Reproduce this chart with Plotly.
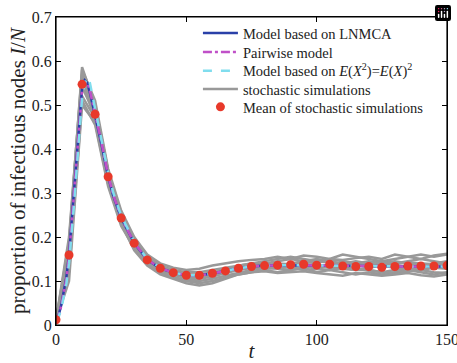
import plotly.graph_objects as go

# mean of stochastic simulations (every 5 time units)
t_mean = list(range(0, 151, 5))
mean_vals = [0.012, 0.159, 0.547, 0.479, 0.337, 0.243, 0.186, 0.148, 0.129, 0.119,
             0.113, 0.113, 0.1175, 0.123, 0.129, 0.133, 0.135, 0.136, 0.137, 0.138,
             0.136, 0.138, 0.134, 0.133, 0.133, 0.131, 0.133, 0.134, 0.134, 0.134, 0.135]

# model curves
t_model = [0, 1, 2, 3, 4, 5, 6, 7, 8, 9, 10, 11, 12, 13, 14, 15, 16, 17, 18, 20, 22, 25,
           30, 35, 40, 45, 50, 55, 60, 65, 70, 75, 80, 90, 100, 110, 120, 135, 150]
lnmca = [0.01, 0.022, 0.045, 0.075, 0.11, 0.16, 0.235, 0.31, 0.39, 0.47, 0.538, 0.556,
         0.55, 0.528, 0.503, 0.479, 0.452, 0.423, 0.395, 0.337, 0.293, 0.243,
         0.186, 0.148, 0.129, 0.119, 0.113, 0.113, 0.117, 0.123, 0.129, 0.133, 0.135,
         0.136, 0.135, 0.134, 0.133, 0.133, 0.133]
pairwise = [0.01, 0.021, 0.043, 0.072, 0.106, 0.155, 0.228, 0.303, 0.382, 0.462, 0.532, 0.552,
            0.551, 0.532, 0.507, 0.483, 0.456, 0.427, 0.399, 0.34, 0.295, 0.244,
            0.187, 0.149, 0.129, 0.119, 0.113, 0.113, 0.117, 0.123, 0.129, 0.133, 0.135,
            0.136, 0.135, 0.134, 0.133, 0.133, 0.133]
ex2 = [0.01, 0.018, 0.036, 0.062, 0.095, 0.14, 0.205, 0.28, 0.36, 0.44, 0.515, 0.548,
       0.563, 0.55, 0.522, 0.492, 0.465, 0.436, 0.407, 0.346, 0.3, 0.248,
       0.19, 0.15, 0.13, 0.119, 0.113, 0.113, 0.117, 0.123, 0.129, 0.133, 0.135,
       0.136, 0.135, 0.134, 0.133, 0.133, 0.133]

# individual stochastic simulations (every 5 time units)
t_sim = list(range(0, 151, 5))
sim01 = [0.01, 0.18, 0.586, 0.50, 0.35, 0.25, 0.19, 0.15, 0.13, 0.12, 0.115, 0.112, 0.118, 0.125, 0.135, 0.14,
         0.145, 0.15, 0.155, 0.15, 0.145, 0.15, 0.16, 0.155, 0.15, 0.145, 0.15, 0.155, 0.16, 0.155, 0.16]
sim02 = [0.01, 0.10, 0.50, 0.46, 0.32, 0.23, 0.17, 0.135, 0.115, 0.105, 0.095, 0.09, 0.095, 0.105, 0.115, 0.12,
         0.125, 0.12, 0.125, 0.13, 0.12, 0.125, 0.12, 0.115, 0.12, 0.115, 0.12, 0.125, 0.12, 0.115, 0.12]
sim03 = [0.01, 0.20, 0.57, 0.49, 0.345, 0.25, 0.195, 0.155, 0.135, 0.125, 0.12, 0.12, 0.125, 0.13, 0.135, 0.14,
         0.14, 0.145, 0.15, 0.145, 0.15, 0.145, 0.14, 0.145, 0.14, 0.145, 0.14, 0.145, 0.15, 0.145, 0.14]
sim04 = [0.01, 0.15, 0.54, 0.48, 0.34, 0.245, 0.185, 0.145, 0.125, 0.115, 0.105, 0.105, 0.11, 0.118, 0.125, 0.13,
         0.13, 0.128, 0.125, 0.13, 0.135, 0.13, 0.128, 0.125, 0.125, 0.12, 0.125, 0.128, 0.125, 0.13, 0.128]
sim05 = [0.01, 0.13, 0.52, 0.47, 0.33, 0.24, 0.18, 0.145, 0.125, 0.115, 0.11, 0.108, 0.112, 0.12, 0.127, 0.13,
         0.132, 0.135, 0.14, 0.145, 0.14, 0.15, 0.145, 0.14, 0.135, 0.14, 0.145, 0.14, 0.135, 0.14, 0.145]
sim06 = [0.01, 0.17, 0.56, 0.50, 0.35, 0.255, 0.19, 0.15, 0.128, 0.118, 0.112, 0.11, 0.115, 0.12, 0.128, 0.135,
         0.14, 0.135, 0.13, 0.135, 0.13, 0.135, 0.13, 0.125, 0.13, 0.135, 0.13, 0.125, 0.13, 0.135, 0.13]
sim07 = [0.01, 0.16, 0.55, 0.47, 0.325, 0.235, 0.18, 0.14, 0.12, 0.11, 0.10, 0.10, 0.105, 0.112, 0.118, 0.125,
         0.128, 0.13, 0.132, 0.125, 0.128, 0.125, 0.13, 0.128, 0.125, 0.12, 0.118, 0.122, 0.125, 0.12, 0.118]
sim08 = [0.01, 0.19, 0.58, 0.51, 0.355, 0.26, 0.20, 0.16, 0.14, 0.13, 0.125, 0.128, 0.135, 0.14, 0.145, 0.148,
         0.15, 0.155, 0.15, 0.158, 0.155, 0.15, 0.148, 0.152, 0.155, 0.15, 0.16, 0.155, 0.15, 0.158, 0.162]
sim09 = [0.01, 0.12, 0.51, 0.455, 0.315, 0.225, 0.175, 0.14, 0.12, 0.108, 0.10, 0.095, 0.10, 0.108, 0.115, 0.12,
         0.122, 0.118, 0.12, 0.122, 0.118, 0.115, 0.112, 0.118, 0.115, 0.112, 0.115, 0.118, 0.113, 0.11, 0.115]
sim10 = [0.01, 0.16, 0.55, 0.49, 0.34, 0.245, 0.19, 0.15, 0.13, 0.12, 0.115, 0.115, 0.12, 0.125, 0.13, 0.132,
         0.135, 0.14, 0.138, 0.14, 0.145, 0.142, 0.138, 0.14, 0.145, 0.14, 0.138, 0.142, 0.14, 0.138, 0.14]
sims = [sim01, sim02, sim03, sim04, sim05, sim06, sim07, sim08, sim09, sim10]

x_ticks = [0, 50, 100, 150]
y_ticks = [0, 0.1, 0.2, 0.3, 0.4, 0.5, 0.6, 0.7]
y_ticktext = ["0", "0.1", "0.2", "0.3", "0.4", "0.5", "0.6", "0.7"]

FONT = "Liberation Serif, Times New Roman, serif"

fig = go.Figure()
for i, s in enumerate(sims):
    fig.add_trace(go.Scatter(x=t_sim, y=s, mode="lines",
                             line=dict(color="#999999", width=2.5),
                             name="stochastic simulations", legendgroup="sim",
                             showlegend=(i == 0), legend="legend4"))
fig.add_trace(go.Scatter(x=t_model, y=lnmca, mode="lines",
                         line=dict(color="#2A40A8", width=2.5),
                         name="Model based on LNMCA", legend="legend"))
fig.add_trace(go.Scatter(x=t_model, y=pairwise, mode="lines",
                         line=dict(color="#C050C8", width=2.5, dash="dashdot"),
                         name="Pairwise model", legend="legend2"))
fig.add_trace(go.Scatter(x=t_model, y=ex2, mode="lines",
                         line=dict(color="#80DDEE", width=2.5, dash="dash"),
                         name="Model based on <i>E</i>(<i>X</i><sup>2</sup>)=<i>E</i>(<i>X</i>)<sup>2</sup>",
                         legend="legend3"))
fig.add_trace(go.Scatter(x=t_mean, y=mean_vals, mode="markers",
                         marker=dict(color="#E8392A", size=9),
                         name="Mean of stochastic simulations", legend="legend5"))

axis_common = dict(showline=True, linecolor="black", linewidth=1.2, mirror="ticks",
                   ticks="inside", ticklen=5, tickcolor="black", showgrid=False,
                   zeroline=False, automargin=False, ticklabeloverflow="allow",
                   tickfont=dict(family=FONT, size=16, color="#222"))

leg_font = dict(family=FONT, size=14.5, color="#222")
leg_x = 0.363
leg_rows = [0.948, 0.886, 0.825, 0.766, 0.708]


def leg(yv):
    return dict(x=leg_x, y=yv, xanchor="left", yanchor="middle",
                bgcolor="rgba(0,0,0,0)", font=leg_font, itemwidth=35,
                borderwidth=0)


fig.update_layout(
    width=457, height=363,
    margin=dict(l=56, r=10, t=17, b=38),
    paper_bgcolor="white", plot_bgcolor="white",
    font=dict(family=FONT, size=16, color="#222"),
    showlegend=True,
    modebar=dict(bgcolor="rgba(0,0,0,0)", color="rgba(0,0,0,0)", activecolor="rgba(0,0,0,0)"),
    legend=leg(leg_rows[0]),
    legend2=leg(leg_rows[1]),
    legend3=leg(leg_rows[2]),
    legend4=leg(leg_rows[3]),
    legend5=leg(leg_rows[4]),
    shapes=[dict(type="rect", xref="paper", yref="paper", x0=0, x1=1, y0=0, y1=1,
                 line=dict(color="black", width=1.2), fillcolor="rgba(0,0,0,0)", layer="above")],
    xaxis=dict(range=[0, 150], tickvals=x_ticks,
               title=dict(text="<i>t</i>", standoff=0, font=dict(family=FONT, size=21)),
               **axis_common),
    yaxis=dict(range=[0, 0.7], tickvals=y_ticks, ticktext=y_ticktext,
               title=dict(text="proportion of infectious nodes <i>I</i>/<i>N</i>", standoff=0,
                          font=dict(family=FONT, size=21)),
               **axis_common),
)

fig.write_html("out.html",
               post_script="document.body.style.margin='0';document.body.style.overflow='hidden';")
